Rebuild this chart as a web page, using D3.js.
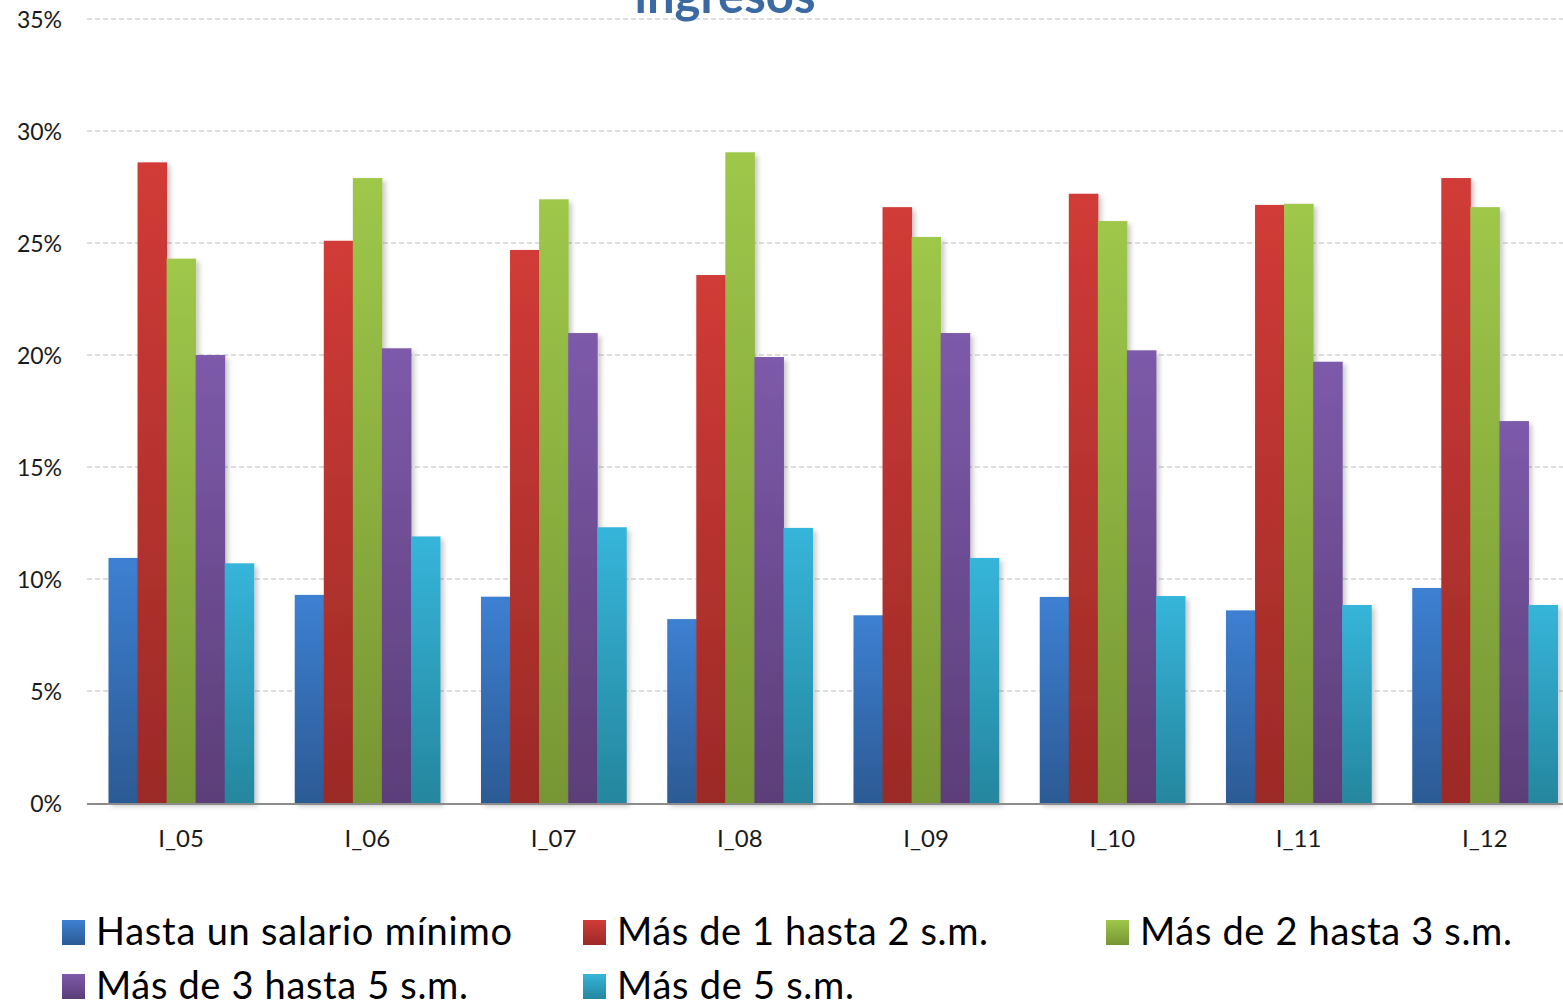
<!DOCTYPE html>
<html>
<head>
<meta charset="utf-8">
<script src="https://cdn.jsdelivr.net/npm/d3@7"></script>
<style>
html,body{margin:0;padding:0;background:#fff;overflow:hidden;}
svg{display:block;font-family:Lato,"Open Sans",sans-serif;}
</style>
</head>
<body>
<svg id="chart" width="1563" height="1004"></svg>
<script>
const categories = ["I_05","I_06","I_07","I_08","I_09","I_10","I_11","I_12"];
const seriesNames = ["Hasta un salario mínimo","Más de 1 hasta 2 s.m.","Más de 2 hasta 3 s.m.","Más de 3 hasta 5 s.m.","Más de 5 s.m."];
const hastaUno   = [0.1094,0.0929,0.0921,0.0821,0.0838,0.0920,0.0860,0.0960];
const de1a2      = [0.2860,0.2510,0.2469,0.2357,0.2660,0.2720,0.2670,0.2790];
const de2a3      = [0.2430,0.2790,0.2695,0.2905,0.2527,0.2598,0.2675,0.2660];
const de3a5      = [0.2000,0.2030,0.2098,0.1991,0.2098,0.2021,0.1970,0.1705];
const mas5       = [0.1070,0.1190,0.1231,0.1228,0.1094,0.0924,0.0884,0.0884];
const seriesValues = [hastaUno,de1a2,de2a3,de3a5,mas5];
const yTicks = [0,0.05,0.10,0.15,0.20,0.25,0.30,0.35];
const titleText = "ingresos";

const colTop = ["#3d80d2","#d13b37","#9fc74a","#7d5aaa","#36b5da"];
const colBot = ["#2c5a94","#9b2a27","#769634","#5b3e78","#25869e"];

const svg = d3.select("#chart");
const defs = svg.append("defs");
colTop.forEach((c,i)=>{
  const g = defs.append("linearGradient").attr("id","g"+i).attr("x1",0).attr("y1",0).attr("x2",0).attr("y2",1);
  g.append("stop").attr("offset","0%").attr("stop-color",c);
  g.append("stop").attr("offset","100%").attr("stop-color",colBot[i]);
});
const f = defs.append("filter").attr("id","sh").attr("x","-20%").attr("y","-5%").attr("width","150%").attr("height","115%");
f.append("feDropShadow").attr("dx",3).attr("dy",3).attr("stdDeviation",2.5).attr("flood-color","#000").attr("flood-opacity",0.22);

const y = d3.scaleLinear().domain([0,0.35]).range([803,19]);
const x0 = d3.scaleBand().domain(categories).range([88,1578]).paddingInner(0.22).paddingOuter(0.11);
const x1 = d3.scaleBand().domain(d3.range(seriesNames.length)).range([0,x0.bandwidth()]);

// gridlines
svg.append("g").selectAll("line").data(yTicks.filter(d=>d>0)).join("line")
  .attr("x1",87).attr("x2",1563).attr("y1",d=>y(d)).attr("y2",d=>y(d))
  .attr("stroke","#d4d4d4").attr("stroke-width",1.5).attr("stroke-dasharray","5,3");

// y axis labels
const yAxis = d3.axisLeft(y).tickValues(yTicks).tickFormat(d3.format(".0%")).tickSize(0).tickPadding(0);
const ya = svg.append("g").attr("transform","translate(62,0)").call(yAxis);
ya.select(".domain").remove();
ya.selectAll("text").attr("font-size",23).attr("fill","#1a1a1a").attr("font-family","Lato, sans-serif").attr("dy","0.35em");

// bars
const groups = svg.append("g").selectAll("g").data(categories).join("g")
  .attr("transform",d=>`translate(${x0(d)},0)`);
groups.selectAll("rect").data((d,ci)=>seriesValues.map((s,si)=>({si,v:s[ci]}))).join("rect")
  .attr("x",d=>x1(d.si)).attr("width",x1.bandwidth()+0.5)
  .attr("y",d=>y(d.v)).attr("height",d=>y(0)-y(d.v))
  .attr("fill",d=>`url(#g${d.si})`).attr("filter","url(#sh)");

// baseline
svg.append("line").attr("x1",87).attr("x2",1563).attr("y1",y(0)+1).attr("y2",y(0)+1)
  .attr("stroke","#8c8c8c").attr("stroke-width",2);

// x axis labels
const xAxis = d3.axisBottom(x0).tickSize(0).tickPadding(0);
const xa = svg.append("g").attr("transform",`translate(0,${y(0)})`).call(xAxis);
xa.select(".domain").remove();
xa.selectAll("text").attr("font-size",24).attr("fill","#1a1a1a").attr("font-family","Lato, sans-serif").attr("dy","0").attr("y",44);

// title
svg.append("text").attr("x",725).attr("y",13).attr("text-anchor","middle")
  .attr("font-size",49).attr("font-weight","bold").attr("fill","#3b6aa3").text(titleText);

// legend
const legPos = [[62,920],[583,920],[1106,920],[62,974],[583,974]];
const legWidths = [416,371,372,372,237];
const leg = svg.append("g").selectAll("g").data(seriesNames).join("g")
  .attr("transform",(d,i)=>`translate(${legPos[i][0]},${legPos[i][1]})`);
leg.append("rect").attr("width",23).attr("height",25).attr("fill",(d,i)=>`url(#g${i})`);
leg.append("text").attr("x",34).attr("y",25).attr("font-size",38).attr("fill","#000")
  .attr("textLength",(d,i)=>legWidths[i]).attr("lengthAdjust","spacing").text(d=>d);
</script>
</body>
</html>
